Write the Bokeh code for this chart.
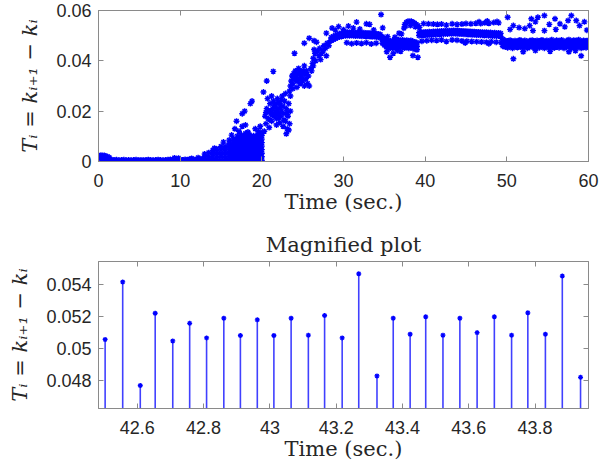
from bokeh.plotting import figure
from bokeh.layouts import column
from bokeh.models import Range1d, LinearAxis, FixedTicker
from bokeh.embed import file_html
from bokeh.resources import INLINE

# ---------------- top panel data (time [s], T_i [s]) ----------------
idle_pts = [(0.1, 0.0022), (0.3, 0.0025), (0.5, 0.0023), (0.7, 0.0024), (0.9, 0.0021),
            (1.1, 0.0019), (1.3, 0.0016), (0.2, 0.0012), (0.6, 0.0013), (1.0, 0.0011),
            (1.4, 0.0010), (0.4, 0.0007), (0.8, 0.0006), (1.2, 0.0006), (1.6, 0.0007),
            (1.9, 0.0006), (2.2, 0.0007), (2.5, 0.0005), (2.8, 0.0006), (3.1, 0.0007),
            (3.4, 0.0005), (3.7, 0.0006), (4.0, 0.0005), (4.3, 0.0006), (4.6, 0.0007),
            (4.9, 0.0005), (5.2, 0.0006), (5.5, 0.0005), (5.8, 0.0006), (6.1, 0.0007),
            (6.4, 0.0006), (6.7, 0.0005), (7.0, 0.0006), (7.3, 0.0007), (7.6, 0.0006),
            (7.9, 0.0005), (8.2, 0.0006), (8.5, 0.0007), (8.8, 0.0008), (9.1, 0.0007),
            (9.4, 0.0009), (9.7, 0.0008), (10.0, 0.0007), (10.3, 0.0006), (10.6, 0.0008),
            (10.9, 0.0007), (11.2, 0.0009), (11.5, 0.0008), (11.8, 0.0007), (12.1, 0.0009),
            (12.4, 0.0010), (12.7, 0.0011), (9.3, 0.0014), (9.8, 0.0013), (11.4, 0.0012),
            (12.2, 0.0015)]

blob_cols = {13.0: [0.0005, 0.0018, 0.0030],
             13.5: [0.0007, 0.0020, 0.0035],
             14.0: [0.0005, 0.0018, 0.0032, 0.0045],
             14.5: [0.0008, 0.0022, 0.0036, 0.0050],
             15.0: [0.0005, 0.0019, 0.0033, 0.0047],
             15.5: [0.0008, 0.0022, 0.0036, 0.0050, 0.0060],
             16.0: [0.0005, 0.0019, 0.0033, 0.0047, 0.0061, 0.0072],
             16.25: [0.0012, 0.0026, 0.0040, 0.0054, 0.0068],
             16.5: [0.0008, 0.0022, 0.0036, 0.0050, 0.0064, 0.0078, 0.0090],
             16.75: [0.0012, 0.0026, 0.0040, 0.0054, 0.0068, 0.0083],
             17.0: [0.0005, 0.0019, 0.0033, 0.0047, 0.0061, 0.0075, 0.0089, 0.0101],
             17.25: [0.0012, 0.0026, 0.0040, 0.0054, 0.0068, 0.0082, 0.0096],
             17.5: [0.0008, 0.0022, 0.0036, 0.0050, 0.0064, 0.0078, 0.0092, 0.0105],
             17.75: [0.0012, 0.0026, 0.0040, 0.0054, 0.0068, 0.0082, 0.0097],
             18.0: [0.0005, 0.0019, 0.0033, 0.0047, 0.0061, 0.0075, 0.0089, 0.0103, 0.0112],
             18.25: [0.0012, 0.0026, 0.0040, 0.0054, 0.0068, 0.0082, 0.0096],
             18.5: [0.0008, 0.0022, 0.0036, 0.0050, 0.0064, 0.0078, 0.0092, 0.0106],
             18.75: [0.0012, 0.0026, 0.0040, 0.0054, 0.0068, 0.0082, 0.0098],
             19.0: [0.0005, 0.0019, 0.0033, 0.0047, 0.0061, 0.0075, 0.0089, 0.0102],
             19.25: [0.0012, 0.0026, 0.0040, 0.0054, 0.0068, 0.0082, 0.0096],
             19.5: [0.0008, 0.0022, 0.0036, 0.0050, 0.0064, 0.0078, 0.0092, 0.0108],
             19.75: [0.0012, 0.0026, 0.0040, 0.0054, 0.0068, 0.0082, 0.0097],
             20.0: [0.0005, 0.0019, 0.0033, 0.0047, 0.0061, 0.0075, 0.0089, 0.0103, 0.0115]}

rise_pts = [(14.2, 0.0053), (15.3, 0.0077), (15.0, 0.0060), (16.0, 0.0085), (16.7, 0.0130),
            (16.9, 0.0160), (17.6, 0.0140), (17.6, 0.0190), (17.9, 0.0200), (18.3, 0.0117),
            (18.8, 0.0240), (18.6, 0.0230), (19.6, 0.0120), (19.8, 0.0140), (17.2, 0.0120),
            (16.3, 0.0105), (19.2, 0.0130), (18.0, 0.0145),
            # 20 - 23.6 s cluster
            (20.3, 0.0120), (20.5, 0.0150), (20.4, 0.0180), (20.6, 0.0210), (20.8, 0.0170),
            (20.9, 0.0200), (21.0, 0.0230), (21.1, 0.0190), (21.2, 0.0160), (21.3, 0.0210),
            (21.4, 0.0240), (21.5, 0.0180), (21.6, 0.0200), (21.7, 0.0220), (21.8, 0.0170),
            (21.9, 0.0250), (22.0, 0.0190), (22.1, 0.0210), (22.2, 0.0230), (22.3, 0.0180),
            (22.4, 0.0200), (22.5, 0.0260), (22.6, 0.0220), (22.7, 0.0190), (22.8, 0.0240),
            (22.9, 0.0160), (23.0, 0.0210), (23.1, 0.0130), (23.2, 0.0180), (23.3, 0.0230),
            (23.4, 0.0150), (23.5, 0.0200), (20.7, 0.0250), (21.2, 0.0260), (21.8, 0.0145),
            (22.2, 0.0155), (22.6, 0.0140), (23.0, 0.0110), (23.3, 0.0125), (20.2, 0.0276),
            (20.6, 0.0320), (21.4, 0.0358), (20.9, 0.0135), (21.5, 0.0225), (22.0, 0.0235),
            (22.9, 0.0270), (22.4, 0.0245), (21.0, 0.0200), (21.7, 0.0190),
            (20.5, 0.0195), (21.0, 0.0165), (21.3, 0.0185), (21.9, 0.0205), (22.3, 0.0215),
            (22.7, 0.0165), (23.1, 0.0195), (21.6, 0.0230), (22.1, 0.0175),
            # 23.4 - 26.3 s cluster
            (23.4, 0.0280), (23.5, 0.0300), (23.6, 0.0320), (23.7, 0.0340), (23.8, 0.0310),
            (23.9, 0.0350), (24.0, 0.0330), (24.1, 0.0360), (24.2, 0.0340), (24.3, 0.0320),
            (24.4, 0.0350), (24.5, 0.0370), (24.6, 0.0330), (24.7, 0.0350), (24.8, 0.0360),
            (24.9, 0.0340), (25.0, 0.0320), (25.1, 0.0360), (25.2, 0.0380), (25.3, 0.0350),
            (25.4, 0.0330), (25.5, 0.0360), (25.6, 0.0310), (25.7, 0.0340), (25.8, 0.0300),
            (23.8, 0.0290), (24.3, 0.0295), (24.7, 0.0310), (25.2, 0.0300), (24.0, 0.0430),
            (23.5, 0.0260), (26.1, 0.0360), (26.3, 0.0380),
            # 26 - 28.5 s
            (26.0, 0.0370), (26.2, 0.0390), (26.3, 0.0410), (26.5, 0.0430), (26.6, 0.0400),
            (26.8, 0.0440), (27.0, 0.0420), (27.1, 0.0450), (27.3, 0.0430), (27.5, 0.0440),
            (27.6, 0.0460), (27.8, 0.0450), (28.0, 0.0470), (28.2, 0.0460), (28.4, 0.0480),
            (26.4, 0.0445), (27.2, 0.0405), (27.9, 0.0420), (25.2, 0.0470), (25.8, 0.0490),
            (26.7, 0.0474), (27.9, 0.0510), (26.4, 0.0480)]

band_cols = {28.50: [0.0480, 0.0493], 28.75: [0.0484, 0.0497], 29.00: [0.0488, 0.0501],
             29.25: [0.0492, 0.0505], 29.50: [0.0495, 0.0508], 29.75: [0.0497, 0.0510],
             30.00: [0.0499, 0.0512], 30.25: [0.0500, 0.0513], 30.50: [0.0501, 0.0514],
             30.75: [0.0500, 0.0513], 31.00: [0.0501, 0.0514], 31.25: [0.0500, 0.0513],
             31.50: [0.0499, 0.0512], 31.75: [0.0500, 0.0513], 32.00: [0.0499, 0.0512],
             32.25: [0.0498, 0.0511], 32.50: [0.0499, 0.0512], 32.75: [0.0497, 0.0510],
             33.00: [0.0498, 0.0511], 33.25: [0.0497, 0.0510], 33.50: [0.0496, 0.0509],
             33.75: [0.0497, 0.0510], 34.00: [0.0495, 0.0508], 34.25: [0.0494, 0.0507],
             34.50: [0.0492, 0.0505],
             34.75: [0.0470, 0.0483, 0.0496], 35.00: [0.0462, 0.0476, 0.0490],
             35.25: [0.0455, 0.0469, 0.0483], 35.50: [0.0448, 0.0463, 0.0478],
             35.75: [0.0452, 0.0466, 0.0480], 36.00: [0.0450, 0.0464, 0.0478],
             36.25: [0.0455, 0.0468, 0.0481], 36.50: [0.0453, 0.0467, 0.0482],
             36.75: [0.0456, 0.0470, 0.0484], 37.00: [0.0452, 0.0466, 0.0480],
             37.25: [0.0455, 0.0469, 0.0483], 37.50: [0.0451, 0.0465, 0.0479],
             37.75: [0.0454, 0.0468, 0.0482], 38.00: [0.0450, 0.0464, 0.0478],
             38.25: [0.0453, 0.0467, 0.0481], 38.50: [0.0449, 0.0463, 0.0477],
             38.75: [0.0446, 0.0460, 0.0475], 39.00: [0.0444, 0.0458, 0.0472],
             39.25: [0.0500, 0.0512], 39.50: [0.0502, 0.0514], 39.75: [0.0501, 0.0513],
             40.00: [0.0503, 0.0515], 40.25: [0.0502, 0.0514], 40.50: [0.0504, 0.0516],
             40.75: [0.0503, 0.0515], 41.00: [0.0505, 0.0517], 41.25: [0.0504, 0.0516],
             41.50: [0.0506, 0.0518], 41.75: [0.0505, 0.0517], 42.00: [0.0507, 0.0519],
             42.25: [0.0506, 0.0518], 42.50: [0.0508, 0.0520], 42.75: [0.0507, 0.0519],
             43.00: [0.0509, 0.0520], 43.25: [0.0508, 0.0520], 43.50: [0.0509, 0.0521],
             43.75: [0.0508, 0.0520], 44.00: [0.0508, 0.0521], 44.25: [0.0507, 0.0519],
             44.50: [0.0507, 0.0519], 44.75: [0.0506, 0.0518], 45.00: [0.0506, 0.0518],
             45.25: [0.0505, 0.0517], 45.50: [0.0505, 0.0517], 45.75: [0.0504, 0.0516],
             46.00: [0.0504, 0.0516], 46.25: [0.0503, 0.0515], 46.50: [0.0503, 0.0515],
             46.75: [0.0502, 0.0514], 47.00: [0.0502, 0.0514], 47.25: [0.0501, 0.0513],
             47.50: [0.0502, 0.0514], 47.75: [0.0500, 0.0512], 48.00: [0.0501, 0.0513],
             48.25: [0.0499, 0.0511], 48.50: [0.0500, 0.0512], 48.75: [0.0498, 0.0510],
             49.00: [0.0499, 0.0511], 49.25: [0.0497, 0.0509],
             49.50: [0.0458, 0.0472, 0.0486], 49.80: [0.0455, 0.0468, 0.0481],
             50.10: [0.0452, 0.0466, 0.0479], 50.40: [0.0456, 0.0469, 0.0482],
             50.70: [0.0450, 0.0464, 0.0477], 51.00: [0.0455, 0.0467, 0.0480],
             51.30: [0.0453, 0.0466, 0.0478], 51.60: [0.0457, 0.0470, 0.0483],
             51.90: [0.0452, 0.0465, 0.0477], 52.20: [0.0455, 0.0468, 0.0481],
             52.50: [0.0450, 0.0463, 0.0476], 52.80: [0.0454, 0.0467, 0.0480],
             53.10: [0.0456, 0.0469, 0.0482], 53.40: [0.0451, 0.0464, 0.0478],
             53.70: [0.0455, 0.0468, 0.0481], 54.00: [0.0452, 0.0466, 0.0479],
             54.30: [0.0456, 0.0469, 0.0483], 54.60: [0.0450, 0.0464, 0.0477],
             54.90: [0.0454, 0.0467, 0.0481], 55.20: [0.0453, 0.0465, 0.0478],
             55.50: [0.0457, 0.0470, 0.0484], 55.80: [0.0451, 0.0464, 0.0477],
             56.10: [0.0455, 0.0468, 0.0482], 56.40: [0.0452, 0.0466, 0.0479],
             56.70: [0.0456, 0.0469, 0.0483], 57.00: [0.0450, 0.0463, 0.0476],
             57.30: [0.0454, 0.0467, 0.0480], 57.60: [0.0457, 0.0470, 0.0484],
             57.90: [0.0451, 0.0465, 0.0478], 58.20: [0.0455, 0.0468, 0.0482],
             58.50: [0.0452, 0.0466, 0.0480], 58.80: [0.0456, 0.0470, 0.0484],
             59.10: [0.0450, 0.0464, 0.0478], 59.40: [0.0454, 0.0467, 0.0481],
             59.70: [0.0452, 0.0465, 0.0479], 60.00: [0.0455, 0.0468, 0.0482]}

outlier_pts = [(30.4, 0.0472), (31.0, 0.0468), (31.6, 0.0471), (32.2, 0.0469), (32.8, 0.0472),
               (33.4, 0.0467), (34.0, 0.0470),
               (28.6, 0.0530), (29.4, 0.0536), (30.6, 0.0538), (31.6, 0.0554), (32.8, 0.0547),
               (33.2, 0.0545), (34.6, 0.0584), (34.8, 0.0531), (30.0, 0.0524), (32.0, 0.0526),
               (29.0, 0.0522), (31.2, 0.0530), (33.7, 0.0523),
               (35.7, 0.0414), (36.1, 0.0430), (38.5, 0.0421), (39.1, 0.0414), (35.3, 0.0436),
               (37.0, 0.0438), (36.6, 0.0441), (36.8, 0.0510), (37.1, 0.0507), (35.4, 0.0496),
               (36.3, 0.0494),
               (37.5, 0.0545), (37.7, 0.0553), (37.9, 0.0557), (38.1, 0.0556), (38.3, 0.0557),
               (38.5, 0.0554), (38.7, 0.0550), (38.9, 0.0545), (39.1, 0.0540), (37.6, 0.0538),
               (38.2, 0.0540), (38.8, 0.0535), (39.3, 0.0533), (37.4, 0.0530),
               (39.8, 0.0548), (40.4, 0.0547), (41.0, 0.0546), (41.5, 0.0545), (42.0, 0.0546),
               (42.6, 0.0542), (43.3, 0.0547), (43.9, 0.0545), (44.5, 0.0546), (45.0, 0.0548),
               (45.6, 0.0547), (46.2, 0.0549), (46.8, 0.0548), (47.3, 0.0551), (47.8, 0.0549),
               (48.4, 0.0552), (49.0, 0.0551), (48.8, 0.0556), (46.6, 0.0555), (47.6, 0.0558),
               (39.6, 0.0478), (40.2, 0.0480), (40.8, 0.0482), (41.4, 0.0481), (42.0, 0.0483),
               (42.6, 0.0477), (43.3, 0.0483), (43.9, 0.0482), (44.5, 0.0479), (45.1, 0.0478),
               (45.7, 0.0477), (46.3, 0.0476), (46.9, 0.0475), (47.5, 0.0474), (48.1, 0.0476),
               (48.7, 0.0474), (49.3, 0.0473), (44.9, 0.0471), (47.8, 0.0468),
               (50.1, 0.0573), (50.8, 0.0540), (51.5, 0.0532), (52.8, 0.0540), (53.0, 0.0567),
               (53.2, 0.0520), (53.8, 0.0573), (54.6, 0.0580), (54.6, 0.0520), (55.2, 0.0545),
               (55.9, 0.0567), (56.5, 0.0547), (57.1, 0.0535), (57.9, 0.0580), (58.5, 0.0560),
               (58.9, 0.0540), (59.5, 0.0555), (56.0, 0.0525), (52.2, 0.0528), (59.8, 0.0522),
               (50.4, 0.0525), (57.5, 0.0560), (53.5, 0.0555),
               (50.8, 0.0408), (59.1, 0.0420), (52.0, 0.0436), (55.3, 0.0438), (57.6, 0.0436),
               (53.5, 0.0441), (58.4, 0.0440)]

top_xticks = [0, 10, 20, 30, 40, 50, 60]
top_xlabels = ["0", "10", "20", "30", "40", "50", "60"]
top_yticks = [0, 0.02, 0.04, 0.06]
top_ylabels = ["0", "0.02", "0.04", "0.06"]

# ---------------- bottom panel data (magnified stem plot) ----------------
mag_t = [42.503, 42.556, 42.609, 42.654, 42.707, 42.758, 42.809, 42.861, 42.911, 42.962,
         43.012, 43.064, 43.116, 43.165, 43.218, 43.268, 43.323, 43.372, 43.423, 43.470,
         43.522, 43.573, 43.625, 43.677, 43.729, 43.778, 43.831, 43.882, 43.937]
mag_T = [0.05057, 0.05417, 0.04769, 0.05221, 0.05048, 0.05158, 0.05067, 0.05190, 0.05082,
         0.05180, 0.05082, 0.05190, 0.05084, 0.05207, 0.05067, 0.05468, 0.04829, 0.05190,
         0.05090, 0.05199, 0.05084, 0.05190, 0.05100, 0.05199, 0.05084, 0.05224, 0.05090,
         0.05454, 0.04820]

bot_xticks = [42.6, 42.8, 43.0, 43.2, 43.4, 43.6, 43.8]
bot_xlabels = ["42.6", "42.8", "43", "43.2", "43.4", "43.6", "43.8"]
bot_yticks = [0.048, 0.050, 0.052, 0.054]
bot_ylabels = ["0.048", "0.05", "0.052", "0.054"]

# ---------------- assemble top series ----------------
top_x, top_y = [], []
for t, v in idle_pts + rise_pts + outlier_pts:
    top_x.append(t)
    top_y.append(v)
for cols in (blob_cols, band_cols):
    for t, vals in cols.items():
        for v in vals:
            top_x.append(t)
            top_y.append(v)

BLUE = "#0000ff"
GRAY = "#8a8a8a"
TXT = "#262626"
TICK_FONT = "Liberation Sans"
LABEL_FONT = "DejaVu Serif"
YLABEL = "T\u1d62 = k\u1d62\u208a\u2081 \u2212 k\u1d62"


def style(p, xt, xl, yt, yl):
    p.xaxis.ticker = FixedTicker(ticks=xt)
    p.yaxis.ticker = FixedTicker(ticks=yt)
    p.xaxis.major_label_overrides = dict(zip(xt, xl))
    p.yaxis.major_label_overrides = dict(zip(yt, yl))
    for ax in p.xaxis + p.yaxis:
        ax.axis_line_color = GRAY
        ax.major_tick_line_color = GRAY
        ax.major_tick_in = 5
        ax.major_tick_out = 0
        ax.minor_tick_line_color = None
        ax.major_label_text_font = TICK_FONT
        ax.major_label_text_font_size = "18px"
        ax.major_label_text_color = TXT
        ax.axis_label_text_font = LABEL_FONT
        ax.axis_label_text_font_size = "21px"
        ax.axis_label_text_color = TXT
        ax.axis_label_text_font_style = "normal"
    p.xaxis.major_label_standoff = 12
    p.yaxis.major_label_standoff = 7
    p.xaxis.axis_label = "Time (sec.)"
    p.yaxis.axis_label = YLABEL
    p.yaxis.axis_label_text_font_style = "italic"
    p.yaxis.axis_label_text_font_size = "21px"
    p.xaxis.axis_label_standoff = 0
    p.yaxis.axis_label_standoff = 11
    for loc, tk in (("above", xt), ("right", yt)):
        ax = LinearAxis(ticker=FixedTicker(ticks=tk), axis_line_color=GRAY,
                        major_tick_line_color=GRAY, major_tick_in=5, major_tick_out=0,
                        minor_tick_line_color=None,
                        major_label_overrides={t: "" for t in tk},
                        major_label_standoff=0)
        p.add_layout(ax, loc)
    p.grid.visible = False
    p.outline_line_color = GRAY


p1 = figure(width=600, height=225, output_backend="svg", toolbar_location=None,
            x_range=Range1d(0, 60), y_range=Range1d(0, 0.06),
            min_border_left=97, min_border_right=12, min_border_top=10, min_border_bottom=64)
p1.scatter(top_x, top_y, marker="asterisk", size=6, line_color=BLUE, line_width=1.4)
style(p1, top_xticks, top_xlabels, top_yticks, top_ylabels)

p2 = figure(width=600, height=241, output_backend="svg", toolbar_location=None,
            x_range=Range1d(42.483, 43.961), y_range=Range1d(0.04625, 0.05545),
            min_border_left=98, min_border_right=12, min_border_top=34, min_border_bottom=58,
            title="Magnified plot")
p2.segment(x0=mag_t, y0=[0] * len(mag_t), x1=mag_t, y1=mag_T, line_color=BLUE,
           line_width=1.6, line_alpha=0.75)
p2.scatter(mag_t, mag_T, marker="asterisk", size=5, line_color=BLUE, line_width=1.3)
p2.title.align = "center"
p2.title.text_font = LABEL_FONT
p2.title.text_font_size = "21px"
p2.title.text_font_style = "normal"
p2.title.text_color = TXT
style(p2, bot_xticks, bot_xlabels, bot_yticks, bot_ylabels)

layout = column(p1, p2)
open("out.html", "w").write(file_html(layout, INLINE))
